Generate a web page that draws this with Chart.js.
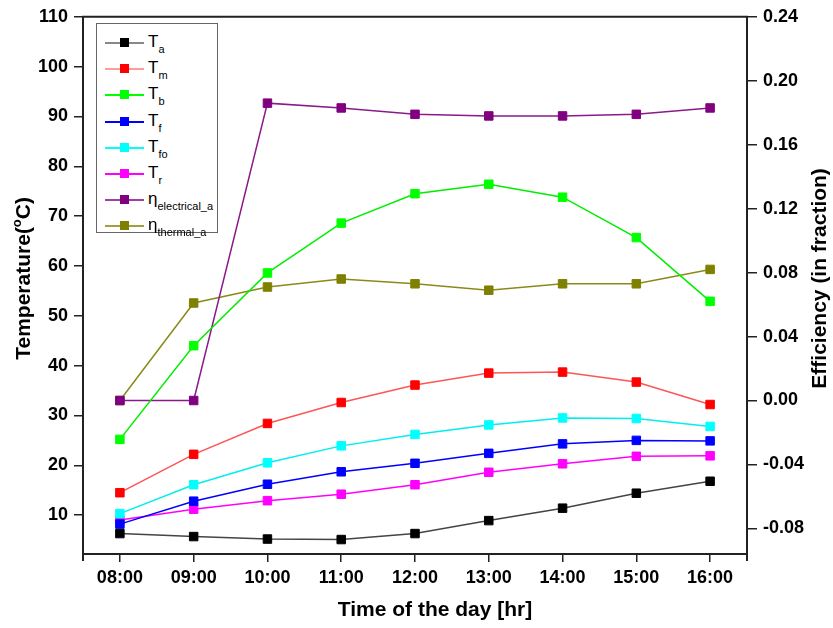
<!DOCTYPE html>
<html lang="en">
<head>
  <meta charset="UTF-8">
  <title>Temperature and efficiency over the day</title>
  <script src="https://cdn.jsdelivr.net/npm/chart.js"></script>
  <style>
    body {
      margin: 0;
      background-color: #fff;
      font-family: 'Liberation Sans', Arial, sans-serif;
    }
    .chart-container {
      position: relative;
      width: 833px;
      height: 628px;
    }
    #legend {
      position: absolute;
      left: 96px;
      top: 23px;
      width: 122px;
      height: 210px;
      box-sizing: border-box;
      border: 1px solid #666;
      padding-top: 6px;
      background: #fff;
    }
    .legend-row {
      position: relative;
      height: 26.2px;
    }
    .legend-line {
      position: absolute;
      left: 8px;
      width: 39px;
      top: 12px;
      height: 2px;
    }
    .legend-mark {
      position: absolute;
      left: 23px;
      top: 8px;
      width: 9px;
      height: 9px;
    }
    .legend-text {
      position: absolute;
      left: 51px;
      top: 2px;
      font-size: 17px;
      color: #000;
      white-space: nowrap;
    }
    .legend-text sub {
      font-size: 11px;
      vertical-align: -6px;
    }
  </style>
</head>
<body>
  <div class="chart-container">
    <canvas id="dayChart"></canvas>
    <div id="legend"></div>
  </div>

  <script>
    const hours = ['08:00', '09:00', '10:00', '11:00', '12:00', '13:00', '14:00', '15:00', '16:00'];

    // temperatures, degC (left axis)
    const tAmbient = [6.3, 5.7, 5.2, 5.1, 6.3, 8.9, 11.4, 14.4, 16.8];
    const tModule = [14.5, 22.2, 28.4, 32.6, 36.1, 38.5, 38.7, 36.7, 32.2];
    const tBack = [25.2, 44.0, 58.6, 68.6, 74.5, 76.4, 73.8, 65.7, 52.9];
    const tFluid = [8.2, 12.8, 16.2, 18.7, 20.4, 22.4, 24.3, 25.0, 24.9];
    const tFluidOut = [10.3, 16.1, 20.5, 23.9, 26.2, 28.1, 29.5, 29.4, 27.8];
    const tRoom = [9.0, 11.2, 12.9, 14.2, 16.1, 18.6, 20.3, 21.8, 21.9];

    // efficiencies, fraction (right axis)
    const effElectrical = [0.000, 0.000, 0.186, 0.183, 0.179, 0.178, 0.178, 0.179, 0.183];
    const effThermal = [0.000, 0.061, 0.071, 0.076, 0.073, 0.069, 0.073, 0.073, 0.082];

    const tempTicks = [10, 20, 30, 40, 50, 60, 70, 80, 90, 100, 110];
    const effTicks = [-0.08, -0.04, 0.00, 0.04, 0.08, 0.12, 0.16, 0.20, 0.24];

    const xTitle = 'Time of the day [hr]';
    const effTitle = 'Efficiency (in fraction)';

    const FONT = "'Liberation Sans', Arial, sans-serif";
    const TITLE_FONT = 'bold 21px ' + FONT;

    function series(sym, sub, data, color, lineColor, axis) {
      return {
        label: sym + sub,
        sym: sym,
        sub: sub,
        data: data,
        yAxisID: axis,
        borderColor: lineColor,
        backgroundColor: color,
        pointBackgroundColor: color,
        pointBorderColor: color,
        pointStyle: 'rect',
        pointRadius: 6,
        pointHoverRadius: 6,
        pointBorderWidth: 1,
        borderWidth: 1.5,
        tension: 0
      };
    }

    const datasets = [
      series('T', 'a', tAmbient, '#000000', '#444444', 'yT'),
      series('T', 'm', tModule, '#ff0000', '#ff5555', 'yT'),
      series('T', 'b', tBack, '#00ff00', '#00ee00', 'yT'),
      series('T', 'f', tFluid, '#0000ff', '#0000ff', 'yT'),
      series('T', 'fo', tFluidOut, '#00ffff', '#00eeee', 'yT'),
      series('T', 'r', tRoom, '#ff00ff', '#ff00ff', 'yT'),
      series('\u03b7', 'electrical_a', effElectrical, '#800080', '#8a1a8a', 'yE'),
      series('\u03b7', 'thermal_a', effThermal, '#808000', '#8a8a1a', 'yE')
    ];
    const legendLineColors = ['#888888', '#ff9c9c', '#00ff00', '#0000ff', '#00ffff', '#ff00ff', '#a040a0', '#a0a040'];

    const axisTicks = {
      color: '#000',
      font: { family: FONT, size: 18, weight: 'bold' }
    };

    // frame, axis titles (the temperature title has a raised "o")
    const framePlugin = {
      id: 'frame',
      afterDraw(chart) {
        const { ctx, chartArea } = chart;
        const midY = (chartArea.top + chartArea.bottom) / 2 - 7;
        ctx.save();
        ctx.strokeStyle = '#222';
        ctx.lineWidth = 2;
        ctx.beginPath();
        ctx.moveTo(chartArea.left - 1, chartArea.top);
        ctx.lineTo(chartArea.right + 1, chartArea.top);
        ctx.moveTo(chartArea.left, chartArea.bottom);
        ctx.lineTo(chartArea.left, chartArea.bottom + 7);
        ctx.moveTo(chartArea.right, chartArea.bottom);
        ctx.lineTo(chartArea.right, chartArea.bottom + 7);
        ctx.stroke();

        ctx.fillStyle = '#000';
        ctx.textBaseline = 'middle';

        // x title
        ctx.font = TITLE_FONT;
        ctx.textAlign = 'center';
        ctx.fillText(xTitle, (chartArea.left + chartArea.right) / 2 + 20, 610);

        // right title, reading upwards
        ctx.save();
        ctx.translate(820, midY);
        ctx.rotate(-Math.PI / 2);
        ctx.fillText(effTitle, 0, 0);
        ctx.restore();

        // left title
        const a = 'Temperature(', sup = 'o', b = 'C)';
        ctx.save();
        ctx.translate(24, midY);
        ctx.rotate(-Math.PI / 2);
        ctx.textAlign = 'left';
        ctx.font = TITLE_FONT;
        const wa = ctx.measureText(a).width;
        const wb = ctx.measureText(b).width;
        ctx.font = 'bold 13px ' + FONT;
        const ws = ctx.measureText(sup).width;
        const x0 = -(wa + ws + wb) / 2;
        ctx.font = TITLE_FONT;
        ctx.fillText(a, x0, 0);
        ctx.fillText(b, x0 + wa + ws, 0);
        ctx.font = 'bold 13px ' + FONT;
        ctx.fillText(sup, x0 + wa, -7);
        ctx.restore();

        ctx.restore();
      }
    };

    const chart = new Chart(document.getElementById('dayChart'), {
      type: 'line',
      data: { labels: hours, datasets: datasets },
      plugins: [framePlugin],
      options: {
        responsive: true,
        maintainAspectRatio: false,
        animation: false,
        layout: { padding: { top: 16, left: 0, right: 0, bottom: 0 } },
        plugins: {
          legend: { display: false },
          tooltip: { enabled: false }
        },
        scales: {
          x: {
            type: 'category',
            offset: true,
            afterFit: s => { s.height = 74; },
            grid: { drawOnChartArea: false, tickLength: 8, color: '#222', lineWidth: 1.5 },
            border: { color: '#222', width: 2 },
            ticks: Object.assign({ padding: 5, maxRotation: 0 }, axisTicks)
          },
          yT: {
            position: 'left',
            min: 2.2,
            max: 110,
            afterFit: s => { s.width = 83; },
            afterBuildTicks: s => { s.ticks = tempTicks.map(v => ({ value: v })); },
            grid: { drawOnChartArea: false, tickLength: 9, color: '#222', lineWidth: 1.5 },
            border: { color: '#222', width: 2 },
            ticks: Object.assign({ padding: 6, callback: v => String(v) }, axisTicks)
          },
          yE: {
            position: 'right',
            min: -0.096,
            max: 0.24,
            afterFit: s => { s.width = 86; },
            afterBuildTicks: s => { s.ticks = effTicks.map(v => ({ value: v })); },
            grid: { drawOnChartArea: false, tickLength: 10, color: '#222', lineWidth: 1.5 },
            border: { color: '#222', width: 2 },
            ticks: Object.assign({ padding: 6, callback: v => Number(v).toFixed(2) }, axisTicks)
          }
        }
      }
    });

    // legend with subscripts, built from the datasets
    const legendEl = document.getElementById('legend');
    chart.data.datasets.forEach((ds, i) => {
      const row = document.createElement('div');
      row.className = 'legend-row';
      row.innerHTML =
        '<div class="legend-line" style="background:' + legendLineColors[i] + '"></div>' +
        '<div class="legend-mark" style="background:' + ds.pointBackgroundColor + '"></div>' +
        '<div class="legend-text">' + ds.sym + '<sub>' + ds.sub + '</sub></div>';
      legendEl.appendChild(row);
    });
  </script>
</body>
</html>
